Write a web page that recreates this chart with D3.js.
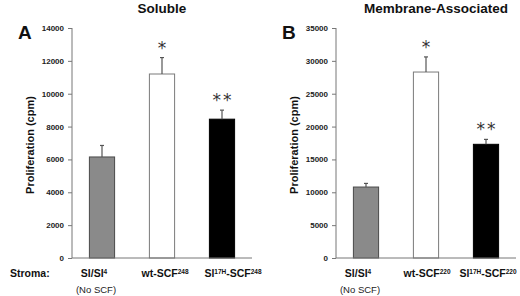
<!DOCTYPE html>
<html>
<head>
<meta charset="utf-8">
<script src="https://cdn.jsdelivr.net/npm/d3@7"></script>
<style>
  body { margin: 0; background: #fff; }
  svg { display: block; font-family: 'Liberation Sans', Arial, sans-serif; }
</style>
</head>
<body>
<svg width="520" height="296"></svg>
<script>
const categories = ['Sl/Sl4', 'wt-SCF', 'Sl17H-SCF'];
const solubleMeans = [6150, 11200, 8450];
const solubleErrors = [700, 1000, 550];
const solubleTicks = [0, 2000, 4000, 6000, 8000, 10000, 12000, 14000];
const membraneMeans = [10800, 28300, 17300];
const membraneErrors = [550, 2300, 750];
const membraneTicks = [0, 5000, 10000, 15000, 20000, 25000, 30000, 35000];
const significance = ['', '*', '**'];
const fills = ['#8a8a8a', '#ffffff', '#000000'];
const strokes = ['#4a4a4a', '#7a7a7a', '#000000'];

const svg = d3.select('svg');

// category label pieces: [text, is superscript]
function labelParts(i, variant) {
    if (i === 0) return [['Sl/Sl', false], ['4', true]];
    if (i === 1) return [['wt-SCF', false], [variant, true]];
    return [['Sl', false], ['17H', true], ['-SCF', false], [variant, true]];
}

function drawPanel(opt) {
    const yTop = 28, yBottom = 258;
    const x = d3.scaleBand()
        .domain(categories)
        .range([opt.left, opt.left + 180])
        .paddingInner(0.58)
        .paddingOuter(0.29);
    const y = d3.scaleLinear()
        .domain([0, d3.max(opt.ticks)])
        .range([yBottom, yTop]);

    const g = svg.append('g');

    // bars
    g.selectAll('.bar')
        .data(opt.means)
        .enter().append('rect')
        .attr('x', (d, i) => x(categories[i]))
        .attr('y', d => y(d))
        .attr('width', x.bandwidth())
        .attr('height', d => yBottom - y(d))
        .attr('fill', (d, i) => fills[i])
        .attr('stroke', (d, i) => strokes[i])
        .attr('stroke-width', 1);

    // error bars (upper only)
    const cx = i => x(categories[i]) + x.bandwidth() / 2;
    g.selectAll('.err')
        .data(opt.means)
        .enter().append('line')
        .attr('x1', (d, i) => cx(i))
        .attr('x2', (d, i) => cx(i))
        .attr('y1', d => y(d))
        .attr('y2', (d, i) => y(d + opt.errors[i]))
        .attr('stroke', '#555')
        .attr('stroke-width', 1.2);
    g.selectAll('.cap')
        .data(opt.means)
        .enter().append('line')
        .attr('x1', (d, i) => cx(i) - 2)
        .attr('x2', (d, i) => cx(i) + 2)
        .attr('y1', (d, i) => y(d + opt.errors[i]))
        .attr('y2', (d, i) => y(d + opt.errors[i]))
        .attr('stroke', '#555')
        .attr('stroke-width', 1.2);

    // significance stars
    g.selectAll('.star')
        .data(opt.means)
        .enter().append('text')
        .attr('x', (d, i) => cx(i) + 1)
        .attr('y', (d, i) => y(d + opt.errors[i]) - 4)
        .attr('text-anchor', 'middle')
        .attr('font-family', 'DejaVu Sans, sans-serif')
        .attr('font-size', '17px')
        .attr('letter-spacing', '2px')
        .attr('fill', '#333')
        .text((d, i) => significance[i]);

    // axes
    const yAxis = g.append('g')
        .attr('transform', `translate(${opt.left},0)`)
        .call(d3.axisLeft(y).tickValues(opt.ticks).tickFormat(d3.format('d')).tickSize(4).tickPadding(4));
    yAxis.select('.domain').attr('stroke', '#777').attr('d', `M0,${yTop}V${yBottom}`);
    yAxis.selectAll('.tick line').attr('stroke', '#777');
    yAxis.selectAll('.tick text')
        .attr('font-family', 'Liberation Sans, Arial, sans-serif')
        .attr('font-size', '8px')
        .attr('font-weight', 'bold')
        .attr('fill', '#222');

    g.append('line')
        .attr('x1', opt.left)
        .attr('x2', opt.left + 180)
        .attr('y1', yBottom)
        .attr('y2', yBottom)
        .attr('stroke', '#777');

    // y label
    g.append('text')
        .attr('transform', `translate(${opt.left - 38},${(yTop + yBottom) / 2 + 2}) rotate(-90)`)
        .attr('text-anchor', 'middle')
        .attr('font-size', '11px')
        .attr('font-weight', 'bold')
        .attr('fill', '#111')
        .text('Proliferation (cpm)');

    // title and panel letter
    g.append('text')
        .attr('x', opt.titleX)
        .attr('y', 13)
        .attr('text-anchor', 'middle')
        .attr('font-size', '13.5px')
        .attr('font-weight', 'bold')
        .attr('fill', '#111')
        .text(opt.title);
    g.append('text')
        .attr('x', opt.left - 54)
        .attr('y', 39)
        .attr('font-size', '19px')
        .attr('font-weight', 'bold')
        .attr('fill', '#111')
        .text(opt.letter);

    // category labels
    categories.forEach((c, i) => {
        const t = g.append('text')
            .attr('x', cx(i) + opt.labelShift[i])
            .attr('y', 277)
            .attr('text-anchor', 'middle')
            .attr('font-size', '10.5px')
            .attr('font-weight', 'bold')
            .attr('fill', '#111');
        labelParts(i, opt.variant).forEach(([s, sup]) => {
            t.append('tspan')
                .attr('font-size', sup ? '6.5px' : '10.5px')
                .attr('baseline-shift', sup ? '3.5' : null)
                .text(s);
        });
    });
    g.append('text')
        .attr('x', cx(0) + opt.labelShift[0] + 2)
        .attr('y', 293)
        .attr('text-anchor', 'middle')
        .attr('font-size', '9.5px')
        .attr('fill', '#222')
        .text('(No SCF)');
}

drawPanel({
    left: 72, title: 'Soluble', titleX: 162, letter: 'A',
    means: solubleMeans, errors: solubleErrors, ticks: solubleTicks,
    variant: '248', labelShift: [-8, 3, 11]
});
drawPanel({
    left: 336, title: 'Membrane-Associated', titleX: 436, letter: 'B',
    means: membraneMeans, errors: membraneErrors, ticks: membraneTicks,
    variant: '220', labelShift: [-8, 1, 2]
});

svg.append('text')
    .attr('x', 10)
    .attr('y', 277)
    .attr('font-size', '10.5px')
    .attr('font-weight', 'bold')
    .attr('fill', '#111')
    .text('Stroma:');
</script>
</body>
</html>
